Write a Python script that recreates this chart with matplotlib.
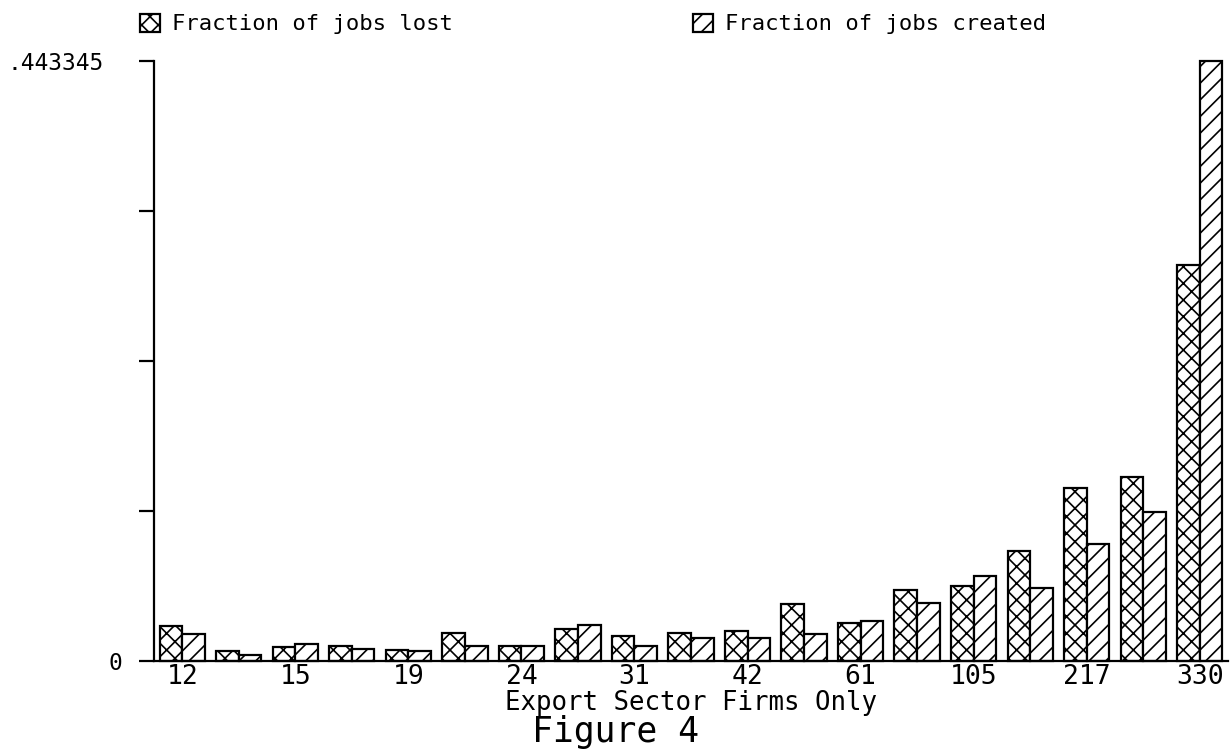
import numpy as np
import matplotlib
matplotlib.use("Agg")
import matplotlib.pyplot as plt

plt.rcParams['font.family'] = ['DejaVu Sans Mono', 'DejaVu Sans']
plt.rcParams['hatch.linewidth'] = 1.2

# fraction of jobs lost / created, 19 size groups (export sector firms)
lost = [0.0259, 0.0077, 0.0106, 0.0114, 0.0079, 0.0205, 0.0114, 0.0234, 0.0188, 0.0210,
        0.0222, 0.0424, 0.0284, 0.0525, 0.0557, 0.0811, 0.1278, 0.1360, 0.2929]
created = [0.0200, 0.0047, 0.0126, 0.0092, 0.0077, 0.0109, 0.0109, 0.0264, 0.0109, 0.0168,
           0.0173, 0.0203, 0.0296, 0.0426, 0.0628, 0.0542, 0.0867, 0.1099, 0.443345]
size_labels = ['12', '15', '19', '24', '31', '42', '61', '105', '217', '330']
ymax = 0.443345

x = np.arange(len(lost))
w = 0.4

fig = plt.figure(figsize=(12.3, 7.54), dpi=100)
ax = fig.add_axes([154/1230, 1-661/754, 1074/1230, 600/754])

b1 = ax.bar(x - w/2, lost, w, color='white', edgecolor='black', hatch='xx',
            linewidth=1.6, label='Fraction of jobs lost', clip_on=False)
b2 = ax.bar(x + w/2, created, w, color='white', edgecolor='black', hatch='//',
            linewidth=1.6, label='Fraction of jobs created', clip_on=False)

ax.set_xlim(-0.5, len(lost) - 0.5)
ax.set_ylim(0, ymax)

for s in ['top', 'right']:
    ax.spines[s].set_visible(False)
ax.spines['left'].set_linewidth(1.6)
ax.spines['bottom'].set_linewidth(1.6)

ax.set_xticks(x[::2])
ax.set_xticklabels(size_labels, fontsize=19)
ax.tick_params(axis='x', length=0, pad=2)

ax.set_yticks(np.linspace(0, ymax, 5))
ax.set_yticklabels(['0', '', '', '', '.443345'], fontsize=16.5)
ax.tick_params(axis='y', length=11, width=1.6, pad=25)
ax.yaxis.get_major_ticks()[0].set_pad(12)

ax.set_xlabel('Export Sector Firms Only', fontsize=18.5, labelpad=0)
fig.text(0.5, 1 - 742/754, 'Figure 4', fontsize=25, ha='center', va='baseline')

fig.legend(handles=[b1, b2], loc='center left', bbox_to_anchor=(129/1230, 1 - 24/754),
           ncol=2, frameon=False, fontsize=16, borderpad=0, handlelength=0.9,
           handleheight=0.9, handletextpad=0.55, columnspacing=10.8)

fig.savefig('out.png', dpi=100)
